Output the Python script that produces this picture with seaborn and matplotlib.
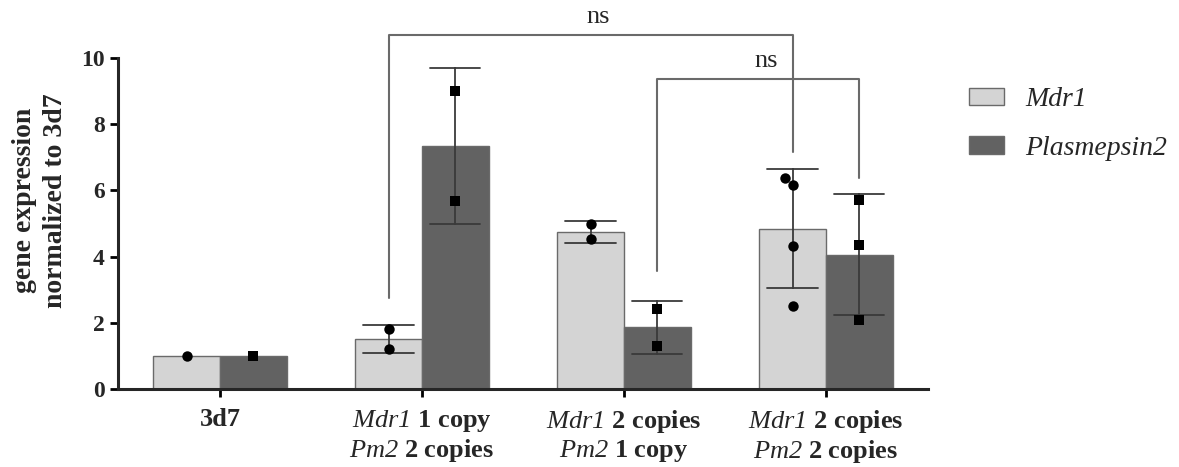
import numpy as np
import pandas as pd
import matplotlib
matplotlib.use("Agg")
import matplotlib.pyplot as plt
import seaborn as sns

# replicate qPCR values (normalised to 3d7)
strains = ["3d7", "M1P2", "M2P1", "M2P2"]
genes = ["Mdr1", "Plasmepsin2"]
mdr1_reps = [[1.0], [1.8, 1.2], [4.99, 4.52], [6.16, 6.38, 4.31, 2.52]]
pm2_reps = [[1.0], [9.0, 5.67], [2.42, 1.30], [5.71, 4.36, 2.09]]
tick_labels = [
    "3d7",
    "$\\mathit{Mdr1}$ 1 copy\n$\\mathit{Pm2}$ 2 copies",
    "$\\mathit{Mdr1}$ 2 copies\n$\\mathit{Pm2}$ 1 copy",
    "$\\mathit{Mdr1}$ 2 copies\n$\\mathit{Pm2}$ 2 copies",
]
bar_colors = {"Mdr1": "#d4d4d4", "Plasmepsin2": "#626262"}
point_markers = {"Mdr1": "o", "Plasmepsin2": "s"}

# significance brackets: (gene, strain) left, (gene, strain) right, top, left leg end, right leg end
brackets = [
    (("Mdr1", "M1P2"), ("Mdr1", "M2P2"), 10.7, 2.76, 7.16),
    (("Plasmepsin2", "M2P1"), ("Plasmepsin2", "M2P2"), 9.36, 3.55, 6.36),
]

rows = []
for s, a, b in zip(strains, mdr1_reps, pm2_reps):
    for v in a:
        rows.append({"strain": s, "gene": "Mdr1", "value": v})
    for v in b:
        rows.append({"strain": s, "gene": "Plasmepsin2", "value": v})
df = pd.DataFrame(rows)

sns.set_style("ticks")
plt.rcParams["font.family"] = ["Liberation Serif", "DejaVu Serif"]
plt.rcParams["mathtext.fontset"] = "custom"
# math is only used for the italic gene names, digits included
plt.rcParams["mathtext.it"] = "Liberation Serif:italic"
plt.rcParams["mathtext.rm"] = "Liberation Serif:italic"
plt.rcParams["mathtext.bf"] = "Liberation Serif:bold"

fig = plt.figure(figsize=(11.79, 4.67), dpi=100)
ax = fig.add_axes([0.100, 0.167, 0.687, 0.709])

sns.barplot(data=df, x="strain", y="value", hue="gene", order=strains, hue_order=genes,
            palette=bar_colors, saturation=1, errorbar="sd", width=0.66, capsize=0.5,
            err_kws={"color": "#3a3a3a", "linewidth": 1.3},
            edgecolor="#6a6a6a", linewidth=1.0, ax=ax)

# bar centres from the drawn bars, used for the replicate points and brackets
centers = {}
for gene, cont in zip(genes, ax.containers):
    for s, bar in zip(strains, cont):
        centers[(gene, s)] = bar.get_x() + bar.get_width() / 2
df["xpos"] = [centers[(g, s)] for g, s in zip(df["gene"], df["strain"])]

for gene in genes:
    sub = df[df["gene"] == gene]
    sns.swarmplot(data=sub, x="xpos", y="value", native_scale=True, color="black",
                  marker=point_markers[gene], size=7.5, legend=False, zorder=4, ax=ax)

for (l, r, top, lo1, lo2) in brackets:
    x1, x2 = centers[l], centers[r]
    ax.plot([x1, x1, x2, x2], [lo1, top, top, lo2], color="#6a6a6a", lw=1.5,
            clip_on=False, zorder=5)
    ax.text((x1 + x2) / 2 + 0.04, top + 0.2, "ns", ha="center", va="bottom", fontsize=19)

ax.set_xlim(-0.505, 3.505)
ax.set_ylim(0, 10)
ax.set_yticks(range(0, 11, 2))
ax.set_xticks(range(len(strains)))
ax.set_xticklabels(tick_labels, fontsize=19, fontweight="bold", linespacing=1.15)
ax.set_xlabel("")
ax.set_ylabel("gene expression\nnormalized to 3d7", fontsize=20, fontweight="bold",
              linespacing=1.3)
ax.yaxis.set_label_coords(-0.062, 0.57)
for lab in ax.get_yticklabels():
    lab.set_fontweight("bold")
    lab.set_fontsize(17)

sns.despine(ax=ax)
ax.spines["left"].set_linewidth(2.2)
ax.spines["bottom"].set_linewidth(2.2)
ax.tick_params(axis="both", width=2, length=6, color="black")
ax.tick_params(axis="x", pad=8)

sns.move_legend(ax, "upper left", bbox_to_anchor=(1.02, 0.987), frameon=False, title=None,
                prop={"family": "Liberation Serif", "style": "italic", "size": 20},
                handlelength=1.27, handleheight=0.6, labelspacing=0.85, handletextpad=0.75)

fig.savefig("out.png", dpi=100)
